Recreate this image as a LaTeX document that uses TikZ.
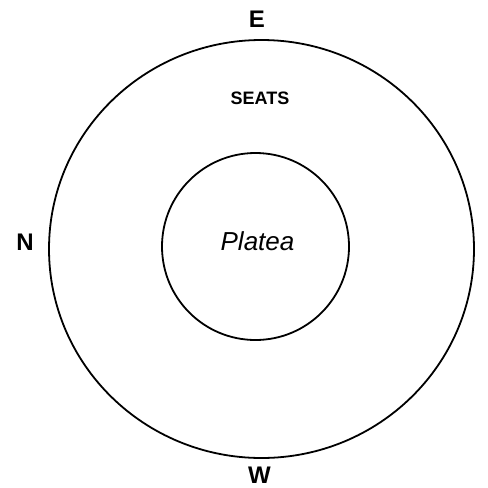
\documentclass[tikz,border=0pt]{standalone}
\usepackage{fontspec}
\setmainfont{Liberation Sans}
\begin{document}
\begin{tikzpicture}[x=1pt,y=-1pt,
  ring/.style={draw=black,line width=1.8pt},
  compass/.style={font=\fontsize{24}{24}\selectfont\bfseries,inner sep=0pt},
  seatslabel/.style={font=\fontsize{18}{19}\selectfont\bfseries,inner sep=0pt},
  platealabel/.style={font=\fontsize{26}{26}\selectfont\itshape,inner sep=0pt}]
\useasboundingbox[fill=white] (0,0) rectangle (488,488);
\draw[ring] (261.5,249) ellipse [x radius=212.5, y radius=209];
\draw[ring] (255.5,246.5) circle [radius=93.5];
\node[compass] (E) at (257,19.5) {E};
\node[compass] (N) at (25,242.5) {N};
\node[compass] (W) at (259.5,475.5) {W};
\node[seatslabel] (seats) at (260,98) {SEATS};
\node[platealabel] (platea) at (257.5,241) {Platea};
\end{tikzpicture}
\end{document}
